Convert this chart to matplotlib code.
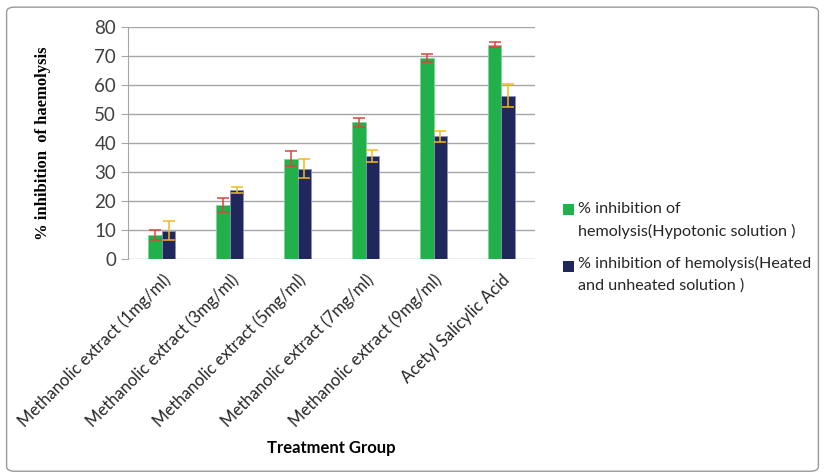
import matplotlib.pyplot as plt
import numpy as np
from matplotlib.patches import FancyBboxPatch, Rectangle

groups = ['Methanolic extract (1mg/ml)', 'Methanolic extract (3mg/ml)',
          'Methanolic extract (5mg/ml)', 'Methanolic extract (7mg/ml)',
          'Methanolic extract (9mg/ml)', 'Acetyl Salicylic Acid']
hypotonic = [8.3, 18.6, 34.6, 47.2, 69.5, 74.0]
hypotonic_err = [1.8, 2.4, 2.5, 1.5, 1.4, 0.9]
heated = [9.8, 23.8, 31.2, 35.6, 42.3, 56.4]
heated_err = [3.3, 1.2, 3.4, 2.0, 1.9, 4.0]
legend_lines = [['% inhibition of', 'hemolysis(Hypotonic solution )'],
                ['% inhibition of hemolysis(Heated', 'and unheated solution )']]

green = '#22B04B'
navy = '#1F275B'
font = 'Lato'

fig = plt.figure(figsize=(8.25, 4.76), dpi=100)
ax = fig.add_axes([0.155, 0.456, 0.494, 0.487])

x = np.arange(len(groups))
w = 0.2
ax.bar(x - w / 2, hypotonic, w, color=green, edgecolor='#7fd59a', linewidth=0.6, zorder=3)
ax.bar(x + w / 2, heated, w, color=navy, edgecolor='#8890b8', linewidth=0.6, zorder=3)
ax.errorbar(x - w / 2, hypotonic, yerr=hypotonic_err, fmt='none', ecolor='#D9453A',
            elinewidth=1.1, capsize=4, capthick=1.1, zorder=4)
ax.errorbar(x + w / 2, heated, yerr=heated_err, fmt='none', ecolor='#F5B91A',
            elinewidth=1.1, capsize=4, capthick=1.1, zorder=4)

ax.set_ylim(0, 80)
ax.set_xlim(-0.5, len(groups) - 0.5)
ax.set_yticks(range(0, 81, 10))
ax.yaxis.grid(True, color='#a6a6a6', linewidth=1.0, zorder=0)
for s in ['top', 'right', 'bottom']:
    ax.spines[s].set_visible(False)
ax.spines['left'].set_color('#a6a6a6')
ax.tick_params(axis='y', colors='#a6a6a6', labelcolor='#404040', labelsize=13.5, length=5)
ax.tick_params(axis='x', length=0, labelsize=12, labelcolor='#262626', pad=9)
ax.set_xticks(x)
ax.set_xticklabels(groups, rotation=45, ha='right', rotation_mode='anchor',
                   fontfamily=font)
for lab in ax.get_yticklabels():
    lab.set_fontfamily(font)

ax.set_ylabel('% inhibition  of haemolysis', fontfamily='Liberation Serif',
              fontweight='bold', fontsize=12, labelpad=31)
fig.text(0.401, 0.058, 'Treatment Group', ha='center', va='center',
         fontfamily=font, fontweight='bold', fontsize=12)

# legend drawn by hand so the swatch sits beside the first line
swatch_bottom = [0.548, 0.429]
line_y = [[0.561, 0.514], [0.447, 0.400]]
for col, sb, lines, ys in zip([green, navy], swatch_bottom, legend_lines, line_y):
    fig.patches.append(Rectangle((0.6825, sb), 0.0135, 0.0235, transform=fig.transFigure,
                                 facecolor=col, edgecolor='none'))
    for txt, yy in zip(lines, ys):
        fig.text(0.7006, yy, txt, ha='left', va='center', fontfamily=font,
                 fontsize=11.6, color='#262626')

fig.patches.append(FancyBboxPatch((0.008, 0.01), 0.984, 0.975,
                                  boxstyle='round,pad=0,rounding_size=0.01',
                                  transform=fig.transFigure, fill=False,
                                  edgecolor='#9a9a9a', linewidth=1.0))

fig.savefig('out.png', dpi=100)
